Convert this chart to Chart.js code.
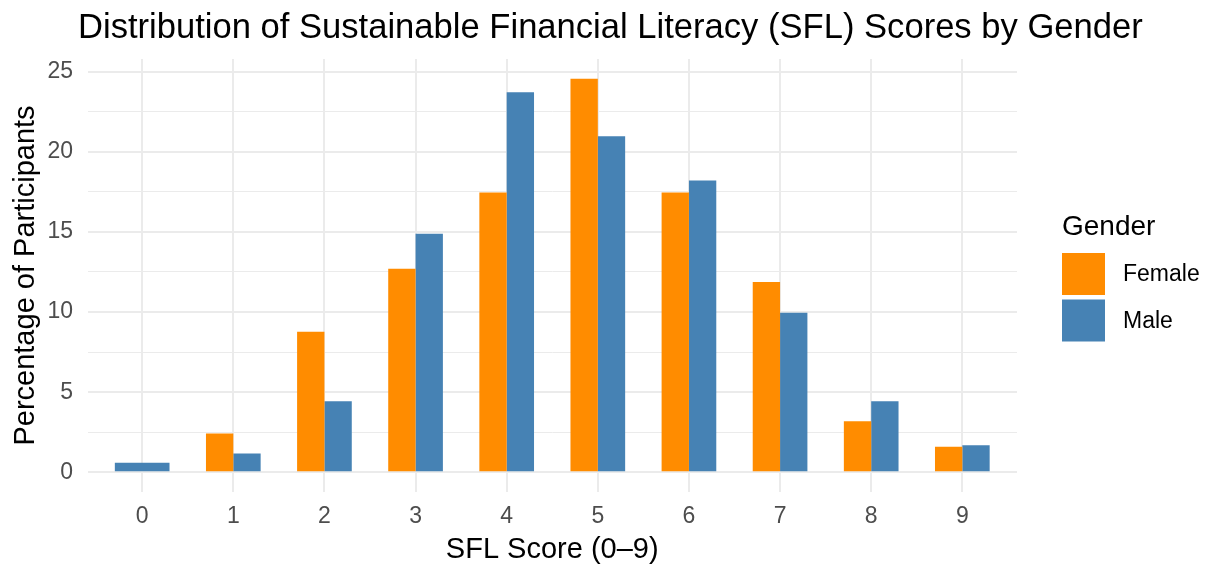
<!DOCTYPE html>
<html>
<head>
<meta charset="utf-8">
<script src="https://cdn.jsdelivr.net/npm/chart.js@4/dist/chart.umd.min.js"></script>
<style>
  html, body { margin: 0; padding: 0; background: #ffffff; }
  #wrap { width: 1208px; height: 567px; position: relative; }
</style>
</head>
<body>
<div id="wrap"><canvas id="c" width="1208" height="567"></canvas></div>
<script>
// ---- data ----
const scores = [0, 1, 2, 3, 4, 5, 6, 7, 8, 9];
const femaleValues = [null, 2.42, 8.77, 12.7, 17.46, 24.56, 17.46, 11.87, 3.18, 1.59];
const maleValues = [0.59, 1.17, 4.43, 14.88, 23.72, 20.97, 18.21, 9.96, 4.43, 1.69];
const seriesLabels = ['Female', 'Male'];
const seriesColors = ['#FF8C00', '#4682B4'];
const yTickValues = [0, 2.5, 5, 7.5, 10, 12.5, 15, 17.5, 20, 22.5, 25];
const titleText = 'Distribution of Sustainable Financial Literacy (SFL) Scores by Gender';
const xTitle = 'SFL Score (0\u20139)';
const yTitle = 'Percentage of Participants';
const legendTitle = 'Gender';

const FONT = '"Liberation Sans", Arial, Helvetica, sans-serif';
const GRID = '#EBEBEB';

const toPoints = (vals) => scores.map((s, i) => ({ x: s, y: vals[i] }));

const titlePlugin = {
  id: 'plotTitle',
  afterDraw(chart) {
    const ctx = chart.ctx;
    ctx.save();
    ctx.fillStyle = '#000000';
    ctx.font = '34.6px ' + FONT;
    ctx.textAlign = 'left';
    ctx.textBaseline = 'alphabetic';
    ctx.fillText(titleText, 78, 38);
    ctx.restore();
  }
};

const legendPlugin = {
  id: 'ggLegend',
  afterDraw(chart) {
    const ctx = chart.ctx;
    ctx.save();
    ctx.fillStyle = '#000000';
    ctx.font = '28px ' + FONT;
    ctx.textAlign = 'left';
    ctx.textBaseline = 'alphabetic';
    ctx.fillText(legendTitle, 1062, 235);
    const keyX = 1062, keyW = 43, keyH = 42;
    const keyTops = [253, 299.5];
    chart.data.datasets.forEach((ds, i) => {
      ctx.fillStyle = ds.backgroundColor;
      ctx.fillRect(keyX, keyTops[i], keyW, keyH);
      ctx.fillStyle = '#000000';
      ctx.font = '23px ' + FONT;
      ctx.textBaseline = 'middle';
      ctx.fillText(ds.label, 1123, keyTops[i] + keyH / 2 + 1);
    });
    ctx.restore();
  }
};

new Chart(document.getElementById('c'), {
  type: 'bar',
  data: {
    datasets: [
      { label: seriesLabels[0], data: toPoints(femaleValues), backgroundColor: seriesColors[0] },
      { label: seriesLabels[1], data: toPoints(maleValues), backgroundColor: seriesColors[1] }
    ]
  },
  options: {
    responsive: false,
    animation: false,
    devicePixelRatio: 1,
    layout: { padding: { top: 59, right: 191, left: 0, bottom: 0 } },
    datasets: {
      bar: { categoryPercentage: 0.6, barPercentage: 1.0, skipNull: true, borderWidth: 0 }
    },
    plugins: {
      legend: { display: false },
      title: { display: false },
      tooltip: { enabled: false }
    },
    scales: {
      x: {
        type: 'linear',
        min: -0.6,
        max: 9.6,
        offset: false,
        afterBuildTicks(scale) { scale.ticks = scores.map(v => ({ value: v })); },
        afterFit(scale) { scale.height = 75; },
        grid: { color: GRID, lineWidth: 2, drawTicks: false, offset: false },
        border: { display: false },
        ticks: {
          padding: 11,
          color: '#4D4D4D',
          font: { family: FONT, size: 23 },
          callback: (v) => String(v)
        },
        title: {
          display: true,
          text: xTitle,
          color: '#000000',
          font: { family: FONT, size: 29 },
          padding: { top: 0, bottom: 0 }
        }
      },
      y: {
        min: -1.23,
        max: 25.79,
        afterBuildTicks(scale) { scale.ticks = yTickValues.map(v => ({ value: v })); },
        afterFit(scale) { scale.width = 87.5; },
        grid: {
          color: GRID,
          lineWidth: (c) => (c.tick && c.tick.value % 5 === 0 ? 2 : 1),
          drawTicks: false
        },
        border: { display: false },
        ticks: {
          padding: 14.5,
          color: '#4D4D4D',
          font: { family: FONT, size: 23 },
          callback: (v) => (v % 5 === 0 ? String(v) : '')
        },
        title: {
          display: true,
          text: yTitle,
          color: '#000000',
          font: { family: FONT, size: 29 },
          padding: { top: 9, bottom: 0 }
        }
      }
    }
  },
  plugins: [titlePlugin, legendPlugin]
});
</script>
</body>
</html>
